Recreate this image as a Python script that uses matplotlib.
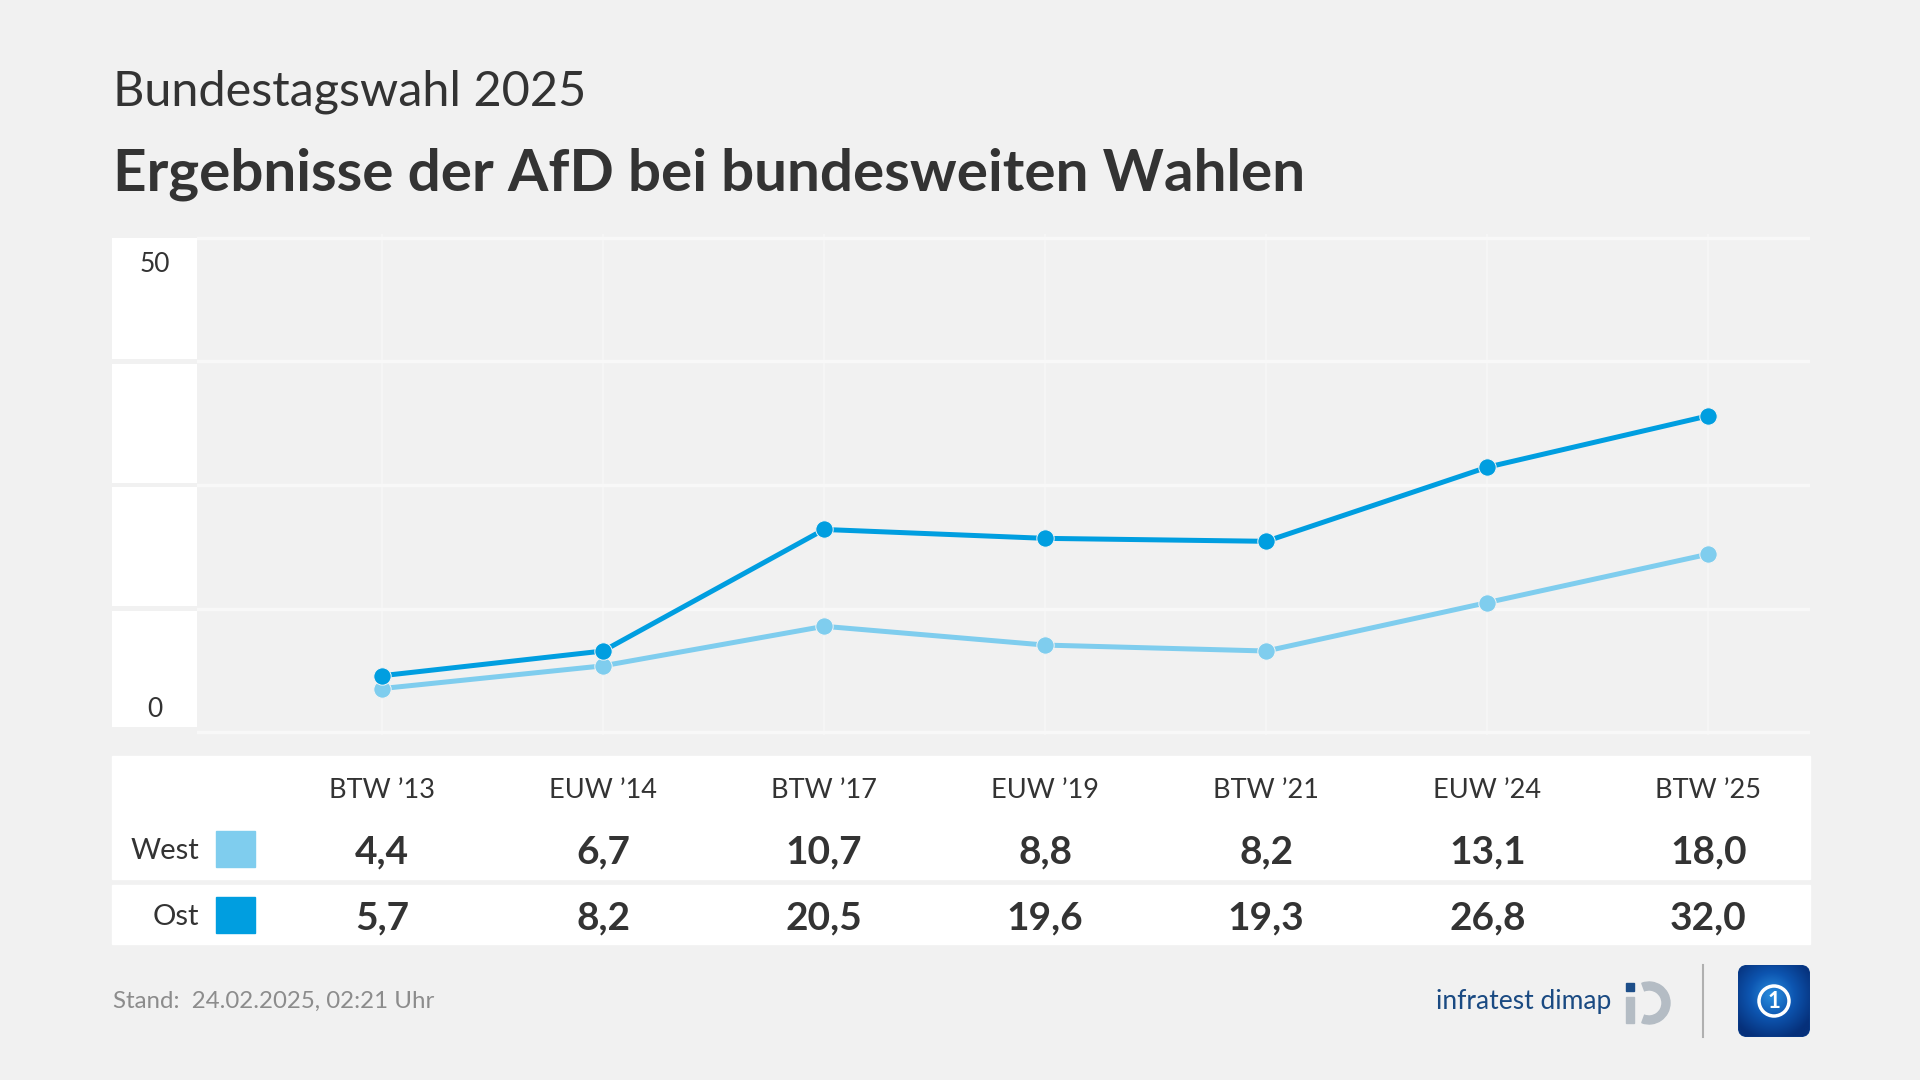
import matplotlib.pyplot as plt
import matplotlib.transforms as mtransforms
from matplotlib.colors import LinearSegmentedColormap
from matplotlib.patches import Rectangle, FancyBboxPatch, Wedge, Circle
import numpy as np

plt.rcParams['font.family'] = ['Lato', 'DejaVu Sans']

# Data
wahlen = ["BTW \u201913", "EUW \u201914", "BTW \u201917", "EUW \u201919", "BTW \u201921", "EUW \u201924", "BTW \u201925"]
west = [4.4, 6.7, 10.7, 8.8, 8.2, 13.1, 18.0]
ost = [5.7, 8.2, 20.5, 19.6, 19.3, 26.8, 32.0]
west_labels = ["4,4", "6,7", "10,7", "8,8", "8,2", "13,1", "18,0"]
ost_labels = ["5,7", "8,2", "20,5", "19,6", "19,3", "26,8", "32,0"]
y_ticks = [0, 12.5, 25, 37.5, 50]

BG = '#f1f1f1'
WEST_C = '#7fcdee'
OST_C = '#009ee0'
TXT = '#333333'

W, H = 1920, 1080
fig = plt.figure(figsize=(19.2, 10.8), dpi=100, facecolor=BG)


def fbox(x0, y0, x1, y1):
    # pixel box (top-left origin) -> figure fraction rect
    return [x0 / W, 1 - y1 / H, (x1 - x0) / W, (y1 - y0) / H]


# Main line chart
ax = fig.add_axes(fbox(197, 234, 1810, 735))
ax.set_facecolor(BG)
ax.set_xlim(-0.837, 6.46)
ax.set_ylim(-0.3, 50.4)
ax.set_yticks(y_ticks)
ax.set_xticks(range(len(wahlen)))
ax.tick_params(length=0, labelleft=False, labelbottom=False)
ax.grid(axis='y', color='#f8f8f8', linewidth=2.4)
ax.grid(axis='x', color='#f6f6f6', linewidth=1.2)
for s in ax.spines.values():
    s.set_visible(False)
x = np.arange(len(wahlen))
ax.plot(x, west, color=WEST_C, linewidth=3.6, marker='o', markersize=12.5,
        markeredgecolor='#f4f4f4', markeredgewidth=0.7, zorder=3)
ax.plot(x, ost, color=OST_C, linewidth=3.6, marker='o', markersize=12.5,
        markeredgecolor='#f4f4f4', markeredgewidth=0.7, zorder=4)

# Y label column
axl = fig.add_axes(fbox(112, 234, 197, 735), sharey=ax)
axl.set_facecolor(BG)
axl.set_xlim(0, 1)
axl.axis('off')
gap = 0.25
for lo, hi in zip(y_ticks[:-1], y_ticks[1:]):
    axl.axhspan(lo + gap * 2 if lo == 0 else lo + gap, hi if hi == 50 else hi - gap,
                color='white', linewidth=0)
axl.text(0.5, 48.6, "50", ha='center', va='top', fontsize=19, color=TXT)
axl.text(0.5, 1.0, "0", ha='center', va='bottom', fontsize=19, color=TXT)

# Table below
for y0, y1 in [(756, 879), (885, 944)]:
    fig.patches.append(Rectangle((112 / W, 1 - y1 / H), (1810 - 112) / W, (y1 - y0) / H,
                                 transform=fig.transFigure, color='white', zorder=0))

tr = mtransforms.blended_transform_factory(ax.transData, fig.transFigure)
for i, name in enumerate(wahlen):
    fig.text(i, 1 - 790 / H, name, transform=tr, ha='center', va='center', fontsize=19.5, color=TXT)
    fig.text(i, 1 - 852 / H, west_labels[i], transform=tr, ha='center', va='center',
             fontsize=28, fontweight='bold', color=TXT)
    fig.text(i, 1 - 918 / H, ost_labels[i], transform=tr, ha='center', va='center',
             fontsize=28, fontweight='bold', color=TXT)

for label, yc, col in [("West", 849, WEST_C), ("Ost", 915, OST_C)]:
    fig.text(199 / W, 1 - (yc + 2) / H, label, ha='right', va='center', fontsize=21, color=TXT)
    fig.patches.append(Rectangle((216 / W, 1 - (yc + 18) / H), 39 / W, 36 / H,
                                 transform=fig.transFigure, color=col))

# Titles
fig.text(113 / W, 1 - 92 / H, "Bundestagswahl 2025", ha='left', va='center', fontsize=35, color=TXT)
fig.text(113 / W, 1 - 174 / H, "Ergebnisse der AfD bei bundesweiten Wahlen", ha='left', va='center',
         fontsize=42, fontweight='bold', color=TXT)

# Footer
fig.text(113 / W, 1 - 1001 / H, "Stand:  24.02.2025, 02:21 Uhr", ha='left', va='center',
         fontsize=17.3, color='#8c8c8c')
fig.text(1611 / W, 1 - 1001 / H, "infratest dimap", ha='right', va='center', fontsize=19,
         color='#1a4a82')

# infratest dimap mark (rough)
lax = fig.add_axes(fbox(1620, 975, 1675, 1030))
lax.set_xlim(0, 55)
lax.set_ylim(0, 55)
lax.set_aspect('equal')
lax.axis('off')
lax.add_patch(Rectangle((6, 39), 8, 8, color='#1d4e89'))
lax.add_patch(Rectangle((6, 7), 8, 26, color='#b4bcc4'))
lax.add_patch(Wedge((29, 27), 21, -110, 110, width=8, color='#b4bcc4'))

# Separator
fig.add_artist(plt.Line2D([1703 / W, 1703 / W], [1 - 965 / H, 1 - 1037 / H], color='#b0b0b0',
                          linewidth=1.5, transform=fig.transFigure))

# tagesschau mark (rough)
tax = fig.add_axes(fbox(1738, 965, 1810, 1037))
tax.set_xlim(0, 72)
tax.set_ylim(0, 72)
tax.axis('off')
box = FancyBboxPatch((0.5, 0.5), 71, 71, boxstyle='round,pad=0,rounding_size=9', color='#0b3f8c')
tax.add_patch(box)
yy, xx = np.mgrid[0:72:200j, 0:72:200j]
rr = np.hypot(xx - 34, yy - 42) / 45
grad = np.clip(1 - rr, 0, 1)
blue_cmap = LinearSegmentedColormap.from_list('ts', ['#06307a', '#0d55b0', '#2a8fe0'])
img = tax.imshow(grad, extent=(0, 72, 0, 72), origin='lower', cmap=blue_cmap, zorder=2)
img.set_clip_path(box)
tax.add_patch(Circle((36, 36), 15, facecolor='none', edgecolor='white', linewidth=2.5, zorder=3))
tax.text(36, 36, "1", ha='center', va='center', fontsize=16, fontweight='bold', color='white', zorder=4)

fig.savefig('out.png', dpi=100, facecolor=BG)
